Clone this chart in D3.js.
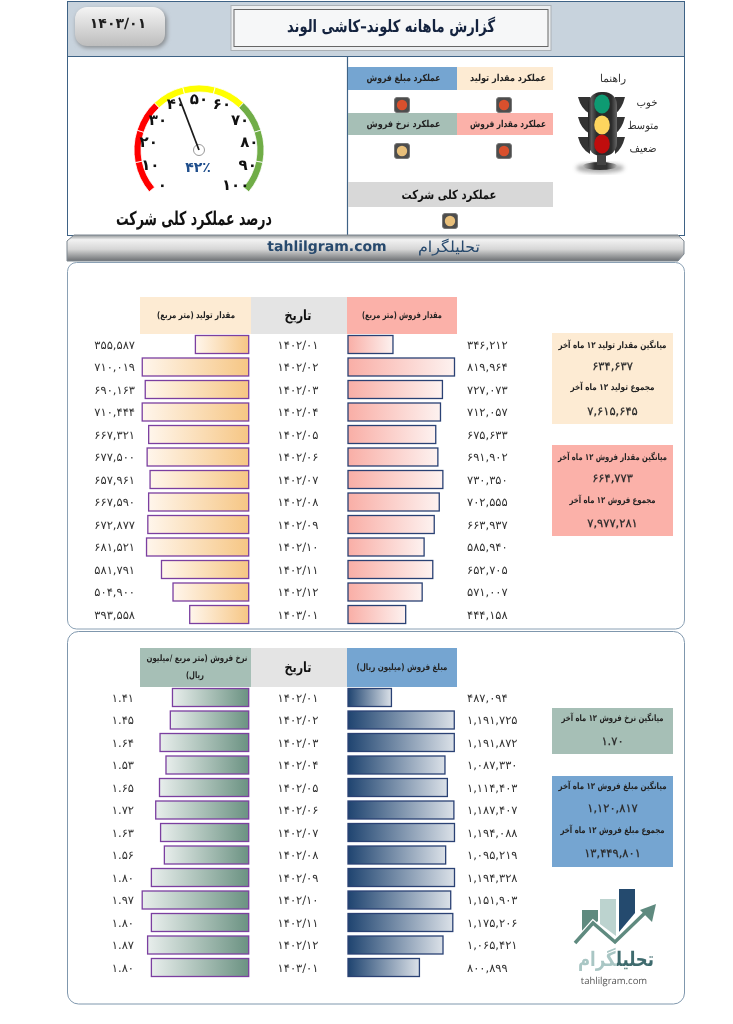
<!DOCTYPE html>
<html lang="fa"><head><meta charset="utf-8">
<script src="https://cdn.jsdelivr.net/npm/d3@7"></script>
<style>
html,body{margin:0;padding:0;background:#fff}
svg{display:block;filter:blur(.3px)}
text{font-family:"DejaVu Sans",sans-serif;fill:#222;text-rendering:geometricPrecision}
.fa{direction:rtl;text-anchor:middle}
</style></head><body><svg id="c" width="733" height="1024"></svg>
<script>
const periods=["1402/01","1402/02","1402/03","1402/04","1402/05","1402/06","1402/07","1402/08","1402/09","1402/10","1402/11","1402/12","1403/01"];
const production=[355587,710019,690163,710444,667321,677500,657961,667590,672877,681521,581791,504900,393558];
const sales=[346212,819964,727073,712057,675633,691902,730350,702555,663937,585940,652705,571007,444158];
const rate=[1.41,1.45,1.64,1.53,1.65,1.72,1.63,1.56,1.80,1.97,1.80,1.87,1.80];
const amount=[487094,1191725,1191872,1087330,1114403,1187407,1194088,1095219,1194328,1151903,1175206,1065421,800899];
const gaugeLabels=[0,10,20,30,40,50,60,70,80,90,100];
const gaugeSegments=["#ff0000","#ff0000","#ff0000","#ffff00","#ffff00","#ffff00","#70ad47","#70ad47","#70ad47"];
const gaugeValue=42;

const svg=d3.select("#c"),defs=svg.append("defs");
const fa=s=>String(s).replace(/\d/g,d=>"۰۱۲۳۴۵۶۷۸۹"[+d]);
const grad=(id,a,b,x2=1,y2=0)=>{const g=defs.append("linearGradient").attr("id",id).attr("x1",0).attr("y1",0).attr("x2",x2).attr("y2",y2);
  g.append("stop").attr("offset",0).attr("stop-color",a);g.append("stop").attr("offset",1).attr("stop-color",b);};
grad("gProd","#fff6ec","#f6c684");grad("gSales","#f9aea6","#fdf2f0");grad("gRate","#e8eeec","#6b9282");grad("gAmt","#1f4470","#dbe1e8");
grad("gBtn","#f4f4f4","#bdbdbd",0,1);
const multi=(id,stops,x2,y2)=>{const b=defs.append("linearGradient").attr("id",id).attr("x1",0).attr("y1",0).attr("x2",x2).attr("y2",y2);
  stops.forEach(([o,c])=>b.append("stop").attr("offset",o).attr("stop-color",c));};
multi("gBar",[[0,"#8f9396"],[.18,"#f2f2f2"],[.55,"#d6d6d6"],[1,"#6d7073"]],0,1);
multi("gBody",[[0,"#1f1f1f"],[.12,"#5a5a5a"],[.3,"#2b2b2b"],[.8,"#2b2b2b"],[1,"#666"]],1,0);
multi("gBase",[[0,"#bbb"],[.35,"#333"],[.7,"#333"],[1,"#bbb"]],1,0);
const lg=defs.append("linearGradient").attr("id","gLogo").attr("gradientUnits","userSpaceOnUse").attr("x1",578).attr("y1",0).attr("x2",654).attr("y2",0);
[[0,"#a9c6c4"],[.52,"#a9c6c4"],[.52,"#3f6b6e"],[1,"#3f6b6e"]].forEach(([o,c])=>lg.append("stop").attr("offset",o).attr("stop-color",c));
const rg=defs.append("filter").attr("id","soft").attr("x","-20%").attr("y","-20%").attr("width","140%").attr("height","140%");
rg.append("feGaussianBlur").attr("stdDeviation",2);

const rect=(x,y,w,h,fill,stroke,rx)=>svg.append("rect").attr("x",x).attr("y",y).attr("width",w).attr("height",h).attr("fill",fill).attr("stroke",stroke||"none").attr("rx",rx||0);
const faText=(t,x,y,size,opt={})=>{const e=svg.append("text").attr("class","fa").attr("x",x).attr("y",y).attr("dominant-baseline","central")
  .attr("font-size",size).attr("font-weight",opt.bold?"bold":"normal").style("fill",opt.fill||"#222").text(t);
  if(opt.width){const w=e.node().getComputedTextLength();e.attr("transform",`translate(${x} 0) scale(${opt.width/w} 1) translate(${-x} 0)`);}
  return e;};

/* top frame */
rect(67.5,1.5,617,55,"#c8d3dd","#3e6285");
rect(67.5,56.5,617,179,"#fff","#3e6285");
svg.append("line").attr("x1",347.5).attr("x2",347.5).attr("y1",56).attr("y2",235).attr("stroke","#3e6285").attr("stroke-width",1.2);

/* date button */
rect(76,9,91,39,"#8b8f93",null,12).attr("filter","url(#soft)");
rect(75,7,90,39,"url(#gBtn)",null,12);
svg.append("text").attr("x",118).attr("y",24).attr("text-anchor","middle").attr("dominant-baseline","central").attr("font-size",14).attr("font-weight","bold").style("fill","#1d1d1d").style("direction","ltr").text(fa("1403/01"));

/* title */
rect(231,5.5,320,45,"#eceef0","#aab0b5");
rect(234,9.5,314,37,"#f6f7f8","#666");
faText("گزارش ماهانه کلوند–کاشی الوند",391,27,17,{bold:true,fill:"#14233f",width:208});

/* gauge */
const gx=199,gy=150;
const segScale=d3.scaleLinear().domain([0,gaugeSegments.length]).range([-130,130]);
const arc=d3.arc().innerRadius(58).outerRadius(65);
const g=svg.append("g").attr("transform",`translate(${gx},${gy})`);
g.selectAll("path").data(gaugeSegments).join("path")
 .attr("d",(d,i)=>arc({startAngle:segScale(i)*Math.PI/180,endAngle:segScale(i+1)*Math.PI/180}))
 .attr("fill",d=>d).attr("stroke","#fff").attr("stroke-width",.8);
const valAngle=d3.scaleLinear().domain([0,100]).range([-134,134]);
g.selectAll("text.t").data(gaugeLabels).join("text").attr("class","t")
 .attr("x",d=>51*Math.sin(valAngle(d)*Math.PI/180)).attr("y",d=>-51*Math.cos(valAngle(d)*Math.PI/180))
 .attr("text-anchor","middle").attr("dominant-baseline","central").attr("font-size",15).attr("letter-spacing",1).attr("font-weight","bold").style("fill","#111").style("direction","ltr").text(d=>fa(d));
const needle=d3.scaleLinear().domain([0,100]).range([-130,130]);
g.append("circle").attr("r",5.5).attr("fill","#fff").attr("stroke","#999").attr("stroke-width",1);
g.append("line").attr("x1",0).attr("y1",0)
 .attr("x2",56*Math.sin(needle(gaugeValue)*Math.PI/180)).attr("y2",-56*Math.cos(needle(gaugeValue)*Math.PI/180))
 .attr("stroke","#1b1b1b").attr("stroke-width",1.7);
svg.append("text").attr("x",198).attr("y",168).attr("text-anchor","middle").attr("dominant-baseline","central").attr("font-size",14).attr("font-weight","bold").style("fill","#1f4e8c").style("direction","rtl").text("۴۲٪");
faText("درصد عملکرد کلی شرکت",194,219,19,{bold:true,fill:"#111",width:156});

/* performance cells */
const cells=[
 [348,67,109,23,"#75a5d1","عملکرد مبلغ فروش"],
 [457,67,96,23,"#fdebd3","عملکرد مقدار تولید"],
 [348,113,109,22,"#a6bfb6","عملکرد  نرخ فروش"],
 [457,113,96,22,"#fbb1a9","عملکرد مقدار فروش"]];
cells.forEach(c=>{rect(c[0],c[1],c[2],c[3],c[4]);faText(c[5],c[0]+c[2]/2+(c[0]==348?1:3),c[1]+c[3]/2,9.5,{bold:true,width:c[0]==348?74:76});});
rect(348,182,205,25,"#d8d8d8");faText("عملکرد کلی شرکت",449,194,12.5,{bold:true,fill:"#111",width:95});
const lamp=(x,y,c)=>{rect(x-7.5,y-7.5,15,15,"#4d4d4d","#777",2.5);svg.append("circle").attr("cx",x).attr("cy",y).attr("r",5.2).attr("fill",c);};
lamp(402,105,"#d9502d");lamp(504,105,"#d9502d");lamp(402,151,"#e8bf7a");lamp(504,151,"#d9502d");lamp(450,221,"#e8bf7a");

/* traffic-light legend */
const wing=y=>svg.append("path").attr("d",`M578 ${y} L590 ${y} L590 ${y+17} Q581 ${y+12} 578 ${y} Z M625 ${y} L615 ${y} L615 ${y+17} Q622 ${y+12} 625 ${y} Z`).attr("fill","#333");
[97,117,137].forEach(wing);
rect(588,92,29,64,"url(#gBody)",null,13);
svg.append("ellipse").attr("cx",600).attr("cy",168).attr("rx",24).attr("ry",5).attr("fill","#666").attr("filter","url(#soft)").attr("opacity",.55);
svg.append("ellipse").attr("cx",600).attr("cy",166).attr("rx",17).attr("ry",4).attr("fill","url(#gBase)");
svg.append("rect").attr("x",597).attr("y",155).attr("width",9).attr("height",10).attr("fill","#444");
[[104,"#0e9a72"],[125,"#fdd55e"],[144,"#c00d0d"]].forEach(([y,c])=>svg.append("ellipse").attr("cx",602).attr("cy",y).attr("rx",7.8).attr("ry",9.5).attr("fill",c));
faText("راهنما",613,78,11,{fill:"#333",width:26});
faText("خوب",647,102,11,{fill:"#333",width:21});
faText("متوسط",643,125,11,{fill:"#333",width:31});
faText("ضعیف",643,148,11,{fill:"#333",width:27});

/* strip */
svg.append("path").attr("d","M74 235L678 235L684 241L684 254L678 261L67 261L67 241Z").attr("fill","url(#gBar)").attr("stroke","#7d8790");
svg.append("text").attr("x",327).attr("y",247).attr("text-anchor","middle").attr("dominant-baseline","central").attr("font-size",14).attr("font-weight","bold").style("fill","#27496d").text("tahlilgram.com");
faText("تحلیلگرام",449,247,15,{fill:"#27496d",width:62});

/* panels */
rect(67.5,262.5,617,366.5,"#fff","#8aa0b4",9);
rect(67.5,631.5,617,372.5,"#fff","#7f97ad",11);

const leftEnd=248.7,rightStart=348,barMax=106.5,barH=18,rowStep=22.5;
function table(cfg){
  const y=d3.scalePoint().domain(d3.range(periods.length)).range([cfg.top,cfg.top+rowStep*(periods.length-1)]);
  const xL=d3.scaleLinear().domain([0,d3.max(cfg.left)]).range([0,barMax]);
  const xR=d3.scaleLinear().domain([0,d3.max(cfg.right)]).range([0,barMax]);
  const cy=i=>y(i)+barH/2;
  rect(140,cfg.headTop,111,cfg.headH,cfg.leftColor);
  rect(251,cfg.headTop,96,cfg.headH,"#e4e4e4");
  rect(347,cfg.headTop,110,cfg.headH,cfg.rightColor);
  const hc=cfg.headTop+cfg.headH/2;
  faText("تاریخ",298,hc,14,{bold:true,fill:"#111",width:27});
  cfg.leftHead.forEach((t,i)=>faText(t[0],t[2],hc+(i-(cfg.leftHead.length-1)/2)*17,9,{bold:true,width:t[1]}));
  faText(cfg.rightHead[0],402,hc,9,{bold:true,width:cfg.rightHead[1]});
  const gg=svg.append("g");
  gg.selectAll(".l").data(cfg.left).join("rect").attr("class","l")
    .attr("x",d=>leftEnd-xL(d)).attr("y",(d,i)=>y(i)).attr("width",d=>xL(d)).attr("height",barH)
    .attr("fill",`url(#${cfg.leftGrad})`).attr("stroke",cfg.leftStroke).attr("stroke-width",1.3);
  gg.selectAll(".r").data(cfg.right).join("rect").attr("class","r")
    .attr("x",rightStart).attr("y",(d,i)=>y(i)).attr("width",d=>xR(d)).attr("height",barH)
    .attr("fill",`url(#${cfg.rightGrad})`).attr("stroke",cfg.rightStroke).attr("stroke-width",1.3);
  const lab=(sel,cls,data,x,anchor,fmt)=>sel.selectAll("."+cls).data(data).join("text").attr("class",cls)
    .attr("x",x).attr("y",(d,i)=>cy(i)).attr("text-anchor",anchor).attr("dominant-baseline","central")
    .attr("font-size",11.5).style("fill","#333").style("direction","ltr").text(fmt);
  lab(gg,"a",cfg.left,cfg.leftLabelX,"end",cfg.leftFmt);
  lab(gg,"b",cfg.right,467,"start",cfg.rightFmt);
  lab(gg,"c",periods,298,"middle",d=>fa(d));
}
const n0=d=>fa(d3.format(",")(d));
table({top:335.5,headTop:297,headH:37,left:production,right:sales,
  leftColor:"#fdebd3",rightColor:"#fbb1a9",leftGrad:"gProd",rightGrad:"gSales",leftStroke:"#7b3fa0",rightStroke:"#2a4174",
  leftHead:[["مقدار تولید (متر مربع)",78,196]],rightHead:["مقدار فروش (متر مربع)",80],leftLabelX:135,leftFmt:n0,rightFmt:n0});
table({top:688.5,headTop:648,headH:39,left:rate,right:amount,
  leftColor:"#a6bfb6",rightColor:"#75a5d1",leftGrad:"gRate",rightGrad:"gAmt",leftStroke:"#7b3fa0",rightStroke:"#2a4174",
  leftHead:[["نرخ فروش (متر مربع /میلیون",101,197],["ریال)",18,195]],rightHead:["مبلغ فروش (میلیون ریال)",91],leftLabelX:134,leftFmt:d=>fa(d3.format(".2f")(d)),rightFmt:n0});

/* side boxes */
const stat=(y,h,c,lines)=>{rect(552,y,121,h,c);lines.forEach(l=>{const isNum=l[3];
  if(isNum) svg.append("text").attr("x",612.5).attr("y",l[0]).attr("text-anchor","middle").attr("dominant-baseline","central").attr("font-size",11.5).style("fill","#2b2b2b").style("stroke","#2b2b2b").style("stroke-width",.25).style("direction","ltr").text(l[1]);
  else faText(l[1],612.5,l[0],9,{bold:true,width:l[2]});});};
stat(333,91,"#fdebd3",[[346,"میانگین مقدار تولید ۱۲ ماه آخر",108],[366,n0(634637),0,1],[388,"مجموع تولید ۱۲ ماه آخر",84],[411,n0(7615645),0,1]]);
stat(445,91,"#fbb1a9",[[458,"میانگین مقدار فروش ۱۲ ماه آخر",109],[478,n0(664773),0,1],[501,"مجموع فروش ۱۲ ماه آخر",86],[523,n0(7977281),0,1]]);
stat(708,46,"#a6bfb6",[[719,"میانگین نرخ فروش ۱۲ ماه آخر",102],[741,fa("1.70"),0,1]]);
stat(776,91,"#75a5d1",[[787,"میانگین مبلغ فروش ۱۲ ماه آخر",108],[808,n0(1120817),0,1],[831,"مجموع مبلغ فروش ۱۲ ماه آخر",104],[853,n0(13449801),0,1]]);

/* logo */
svg.append("path").attr("d","M582 910L598 910L598 921L582 934Z").attr("fill","#5f8a7f");
svg.append("path").attr("d","M600 899L616 899L616 936L600 924Z").attr("fill","#bcd3cf");
svg.append("path").attr("d","M619 889L635 889L635 913L619 932Z").attr("fill","#244a6e");
svg.append("path").attr("d","M575 943L593 923L615 942L647 911").attr("fill","none").attr("stroke","#fff").attr("stroke-width",6);
svg.append("path").attr("d","M575 943L593 923L615 942L647 911").attr("fill","none").attr("stroke","#5f8a7f").attr("stroke-width",3.5);
svg.append("path").attr("d","M656 904L640 910L652 922Z").attr("fill","#5f8a7f");
const lt=faText("تحلیلگرام",616,959,20,{bold:true,width:76});lt.style("fill","url(#gLogo)");
svg.append("text").attr("x",614).attr("y",980).attr("text-anchor","middle").attr("dominant-baseline","central").attr("font-size",9.5).style("fill","#555").style("font-family","Open Sans").text("tahlilgram.com");
</script></body></html>
